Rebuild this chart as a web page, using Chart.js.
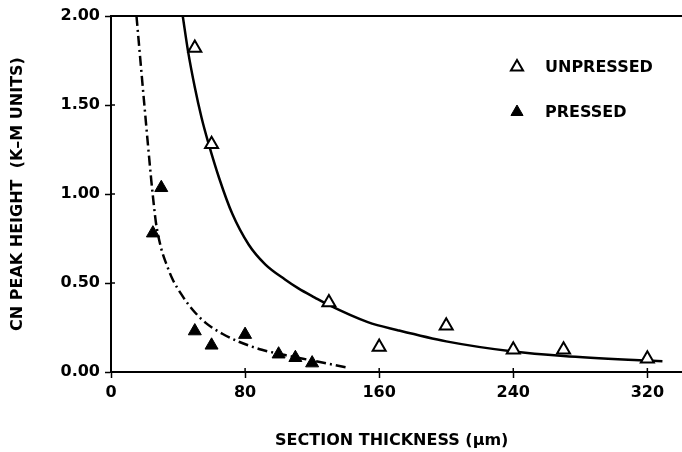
<!DOCTYPE html>
<html>
<head>
<meta charset="utf-8">
<script src="https://cdn.jsdelivr.net/npm/chart.js@4/dist/chart.umd.min.js"></script>
<style>
  body { margin: 0; background: #fff; }
  canvas { display: block; }
</style>
</head>
<body>
<canvas id="chart" width="682" height="452"></canvas>
<script>
// measured points
const unpressedX = [50, 60, 130, 160, 200, 240, 270, 320];
const unpressedY = [1.82, 1.28, 0.39, 0.14, 0.26, 0.125, 0.125, 0.075];
const pressedX = [25, 30, 50, 60, 80, 100, 110, 120];
const pressedY = [0.78, 1.035, 0.23, 0.15, 0.21, 0.10, 0.08, 0.05];

// fitted curves
const solidX = [42.8, 46, 50, 54, 58, 64.5, 72.3, 82.2, 92, 103.8, 111.8, 121.6, 129.5, 153.2, 171, 200, 240, 270, 320, 329];
const solidY = [2.0, 1.80, 1.60, 1.43, 1.29, 1.09, 0.89, 0.715, 0.605, 0.52, 0.47, 0.418, 0.378, 0.28, 0.235, 0.172, 0.115, 0.09, 0.064, 0.06];
const dashX = [15.2, 20.1, 24, 25.2, 26.8, 29.8, 32.9, 36.8, 42.8, 48.7, 56.5, 66.4, 76.3, 90, 103.8, 119.7, 141];
const dashY = [2.0, 1.48, 1.08, 0.97, 0.84, 0.70, 0.61, 0.52, 0.425, 0.35, 0.276, 0.215, 0.17, 0.125, 0.095, 0.065, 0.025];

const xTicks = [0, 80, 160, 240, 320];
const yTicks = [0, 0.5, 1.0, 1.5, 2.0];
const legendLabels = ['UNPRESSED', 'PRESSED'];

const FONT = { family: '"DejaVu Sans"', size: 16, weight: 'bold' };

function pts(xs, ys) {
    return xs.map((x, i) => ({ x: x, y: ys[i] }));
}

// top frame line, axis run-out to the edge, inner halves of the tick marks, legend
const framePlugin = {
    id: 'frame',
    afterDraw(chart) {
        const ctx = chart.ctx;
        const area = chart.chartArea;
        const xs = chart.scales.x;
        const ys = chart.scales.y;
        ctx.save();
        ctx.strokeStyle = '#000';
        ctx.lineWidth = 2;
        ctx.beginPath();
        ctx.moveTo(area.left, area.top);
        ctx.lineTo(chart.width, area.top);
        ctx.moveTo(area.right, area.bottom);
        ctx.lineTo(chart.width, area.bottom);
        ctx.stroke();

        ctx.lineWidth = 1.5;
        xTicks.forEach(v => {
            const px = xs.getPixelForValue(v);
            ctx.beginPath();
            ctx.moveTo(px, area.bottom);
            ctx.lineTo(px, area.bottom - 4);
            ctx.stroke();
        });
        yTicks.forEach(v => {
            const py = ys.getPixelForValue(v);
            ctx.beginPath();
            ctx.moveTo(area.left, py);
            ctx.lineTo(area.left + 4, py);
            ctx.stroke();
        });

        // legend
        const lx = 517;
        const rows = [area.top + 51, area.top + 96];
        ctx.font = 'bold 16px "DejaVu Sans"';
        ctx.textBaseline = 'middle';
        ctx.textAlign = 'left';
        [0, 1].forEach(i => {
            const ds = chart.data.datasets[i];
            ctx.fillStyle = ds.backgroundColor;
            ctx.strokeStyle = ds.borderColor;
            ctx.lineWidth = ds.borderWidth;
            Chart.helpers.drawPoint(ctx, { pointStyle: 'triangle', radius: 7, rotation: 0, borderWidth: ds.borderWidth }, lx, rows[i]);
            ctx.fillStyle = '#000';
            ctx.fillText(legendLabels[i], lx + 28, rows[i] + 1);
        });
        ctx.restore();
    }
};

new Chart(document.getElementById('chart'), {
    type: 'scatter',
    data: {
        datasets: [
            {
                label: legendLabels[0],
                data: pts(unpressedX, unpressedY),
                pointStyle: 'triangle',
                pointRadius: 7.5,
                backgroundColor: '#fff',
                borderColor: '#000',
                borderWidth: 2
            },
            {
                label: legendLabels[1],
                data: pts(pressedX, pressedY),
                pointStyle: 'triangle',
                pointRadius: 7.5,
                backgroundColor: '#000',
                borderColor: '#000',
                borderWidth: 1
            },
            {
                label: 'unpressed fit',
                type: 'line',
                data: pts(solidX, solidY),
                borderColor: '#000',
                borderWidth: 2.5,
                pointRadius: 0,
                cubicInterpolationMode: 'monotone',
                fill: false
            },
            {
                label: 'pressed fit',
                type: 'line',
                data: pts(dashX, dashY),
                borderColor: '#000',
                borderWidth: 2.5,
                borderDash: [10, 4, 2, 4],
                pointRadius: 0,
                cubicInterpolationMode: 'monotone',
                fill: false
            }
        ]
    },
    options: {
        responsive: false,
        animation: false,
        devicePixelRatio: 1,
        layout: { padding: { top: 16, right: 0, left: 0, bottom: 0 } },
        plugins: {
            legend: { display: false },
            tooltip: { enabled: false }
        },
        scales: {
            x: {
                type: 'linear',
                min: 0,
                max: 335,
                afterBuildTicks: scale => { scale.ticks = xTicks.map(v => ({ value: v })); },
                afterFit: scale => { scale.height = 80; },
                ticks: { color: '#000', font: FONT, padding: 5 },
                grid: { drawOnChartArea: false, drawTicks: true, tickLength: 6, tickColor: '#000', tickWidth: 1.5 },
                border: { display: true, color: '#000', width: 2 },
                title: {
                    display: true,
                    text: 'SECTION THICKNESS (\u03bcm)',
                    color: '#000',
                    font: FONT,
                    padding: { top: 0, bottom: 2 }
                }
            },
            y: {
                min: 0,
                max: 2,
                afterBuildTicks: scale => { scale.ticks = yTicks.map(v => ({ value: v })); },
                afterFit: scale => { scale.width = 111; },
                ticks: { color: '#000', font: FONT, padding: 5, callback: v => v.toFixed(2) },
                grid: { drawOnChartArea: false, drawTicks: true, tickLength: 6, tickColor: '#000', tickWidth: 1.5 },
                border: { display: true, color: '#000', width: 2 },
                title: {
                    display: true,
                    text: 'CN PEAK HEIGHT\u00a0\u00a0(K\u2013M UNITS)',
                    color: '#000',
                    font: FONT,
                    padding: { top: 8, bottom: 0 }
                }
            }
        }
    },
    plugins: [framePlugin]
});
</script>
</body>
</html>
